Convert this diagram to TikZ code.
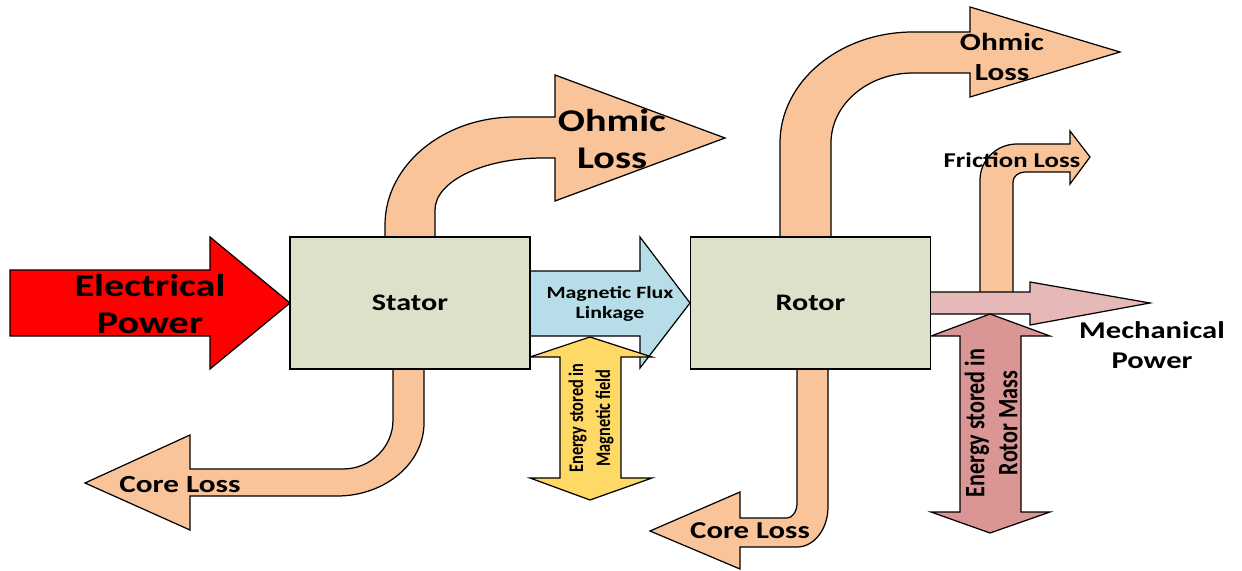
\documentclass[tikz,border=0pt]{standalone}
\usepackage{fontspec}
\setmainfont{Carlito}
\usepackage{tikz}
\definecolor{boxfill}{HTML}{DDE1C9}
\definecolor{lossfill}{HTML}{F9C49A}
\definecolor{fluxfill}{HTML}{B7DEE8}
\definecolor{fieldfill}{HTML}{FFD966}
\definecolor{mechfill}{HTML}{E6B9B8}
\definecolor{massfill}{HTML}{DA9694}
\newcommand{\stretchX}{1.27}
\tikzstyle{machine}=[x=0.02cm, y=-0.02cm, line width=0.7pt, line join=miter, font=\bfseries]
\tikzstyle{block}=[draw, fill=boxfill, minimum width=4.8cm, minimum height=2.64cm, inner sep=0pt, font=\bfseries\fontsize{13.5}{16}\selectfont]
\tikzstyle{loss}=[draw, fill=lossfill]
\tikzstyle{lbl}=[inner sep=0pt, align=center, xscale=\stretchX]
\tikzstyle{vlbl}=[inner sep=0pt, align=center, rotate=90, yscale=\stretchX]
\newcommand{\bigLbl}{\fontsize{18}{21.6}\selectfont}
\newcommand{\midLbl}{\fontsize{14}{17}\selectfont}
\newcommand{\smallLbl}{\fontsize{9.8}{11.4}\selectfont}

\begin{document}
\begin{tikzpicture}[machine]
\useasboundingbox (0,0) rectangle (1242,571);

%The input arrow
\draw[fill=red] (10,270) -- (210,270) -- (210,237) -- (290,303) -- (210,369) -- (210,336) -- (10,336) -- cycle;
\node[lbl, font=\bfseries\bigLbl] (elec) at (150,304) {Electrical\\Power};

%The stator losses
\draw[loss] (385,237) -- (385,225) arc[start angle=180, end angle=270, x radius=130, y radius=108]
  -- (555,117) -- (555,75) -- (725,138) -- (555,201) -- (555,158) -- (543,158)
  arc[start angle=270, end angle=180, x radius=108, y radius=52] -- (435,237) -- cycle;
\node[lbl, font=\bfseries\bigLbl] (sohm) at (612,139) {Ohmic\\Loss};

\draw[loss] (393,369) -- (393,420) arc[start angle=0, end angle=90, x radius=50, y radius=49]
  -- (190,469) -- (190,435) -- (85,483) -- (190,530) -- (190,496) -- (337,496)
  arc[start angle=90, end angle=0, x radius=87, y radius=73] -- (424,369) -- cycle;
\node[lbl, font=\bfseries\midLbl] (score) at (180,485) {Core Loss};

%The air gap
\draw[fill=fluxfill] (530,271) -- (640,271) -- (640,237) -- (690,303) -- (640,368) -- (640,336) -- (530,336) -- cycle;
\node[lbl, font=\bfseries\smallLbl] (flux) at (610,304) {Magnetic Flux\\Linkage};

\draw[fill=fieldfill] (590,337) -- (652,357) -- (621,357) -- (621,478) -- (652,478) -- (590,500)
  -- (530,478) -- (560,478) -- (560,357) -- (530,357) -- cycle;
\node[vlbl, font=\bfseries\fontsize{9.3}{12.1}\selectfont] (field) at (591,418) {Energy stored in\\Magnetic field};

%The rotor losses
\draw[loss] (780,237) -- (780,143) arc[start angle=180, end angle=270, x radius=133, y radius=111]
  -- (970,32) -- (970,7) -- (1120,52) -- (970,97) -- (970,73) -- (913,73)
  arc[start angle=270, end angle=180, x radius=82, y radius=70] -- (831,237) -- cycle;
\node[lbl, font=\bfseries\midLbl] (rohm) at (1002,57) {Ohmic\\Loss};

\draw[loss] (797,369) -- (797,503) arc[start angle=0, end angle=90, x radius=10, y radius=15]
  -- (740,518) -- (740,492) -- (650,531) -- (740,569) -- (740,547) -- (797,547)
  arc[start angle=90, end angle=0, x radius=31, y radius=40] -- (828,369) -- cycle;
\node[lbl, font=\bfseries\fontsize{13.8}{16}\selectfont] (rcore) at (750,531) {Core Loss};

\draw[loss] (980,293) -- (980,180) arc[start angle=180, end angle=270, x radius=37, y radius=36]
  -- (1070,144) -- (1070,131) -- (1090,157) -- (1070,184) -- (1070,172) -- (1025,172)
  arc[start angle=270, end angle=180, x radius=12, y radius=10] -- (1013,293) -- cycle;
\node[lbl, font=\bfseries\fontsize{12}{14}\selectfont] (fric) at (1012,160) {Friction Loss};

%The output
\draw[fill=mechfill] (930,292) -- (1030,292) -- (1030,282) -- (1150,303) -- (1030,325) -- (1030,314) -- (930,314) -- cycle;
\node[lbl, font=\bfseries\fontsize{13.7}{17}\selectfont] (mech) at (1152,345) {Mechanical\\Power};

\draw[fill=massfill] (990,314) -- (1050,336) -- (1021,336) -- (1021,512) -- (1050,512) -- (990,533)
  -- (931,512) -- (960,512) -- (960,336) -- (931,336) -- cycle;
\node[vlbl, font=\bfseries\fontsize{12.6}{14.8}\selectfont] (mass) at (991,423) {Energy stored in\\Rotor Mass};

%The two blocks
\draw (410,303) node[block] (stator) {\scalebox{\stretchX}[1]{Stator}};
\draw (810.5,303) node[block] (rotor) {\scalebox{\stretchX}[1]{Rotor}};
\end{tikzpicture}
\end{document}
